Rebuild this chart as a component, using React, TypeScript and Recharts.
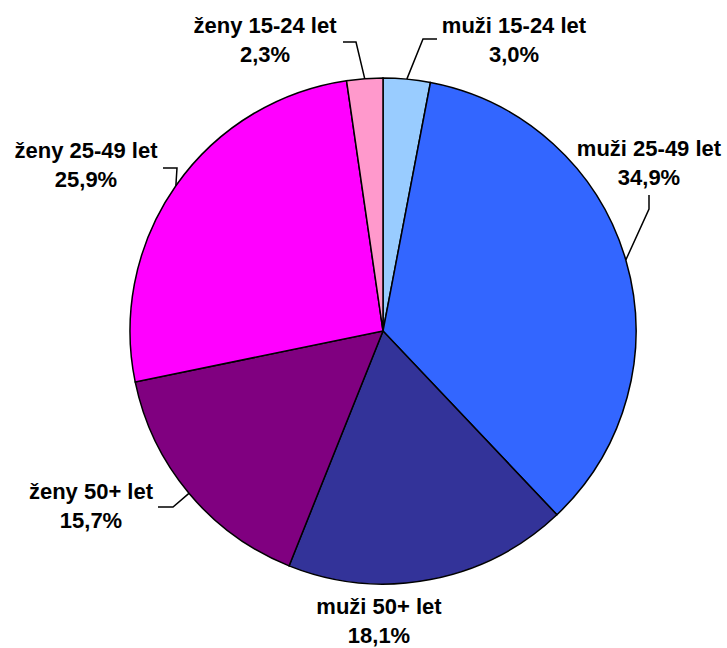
import { PieChart, Pie, Cell } from "recharts";

const categories = [
  "muži 15-24 let",
  "muži 25-49 let",
  "muži 50+ let",
  "ženy 50+ let",
  "ženy 25-49 let",
  "ženy 15-24 let",
];
const shares = [3.0, 34.9, 18.1, 15.7, 25.9, 2.3];
const shareLabels = ["3,0%", "34,9%", "18,1%", "15,7%", "25,9%", "2,3%"];
const colors = ["#99CCFF", "#3366FF", "#333399", "#800080", "#FF00FF", "#FF99CC"];

// label placement relative to pie centre (text centre x, first baseline y, leader elbow + end)
const labelLayout = [
  { tx: 131, ty: -298, leader: [[40, -292], [54, -292]] },
  { tx: 266, ty: -175, leader: [[266, -122], [266, -136]] },
  { tx: -4, ty: 283, leader: [] },
  { tx: -292, ty: 168, leader: [[-210, 176], [-225, 176]] },
  { tx: -297, ty: -173, leader: [[-206, -163], [-220, -163]] },
  { tx: -118, ty: -298, leader: [[-27, -289], [-40, -289]] },
];

const data = categories.map((name, i) => ({ name, value: shares[i] }));

const RAD = Math.PI / 180;

const renderLabel = (props: any) => {
  const { cx, cy, midAngle, outerRadius, index } = props;
  const l = labelLayout[index];
  const sx = cx + outerRadius * Math.cos(-midAngle * RAD);
  const sy = cy + outerRadius * Math.sin(-midAngle * RAD);
  const pts = [[sx, sy], ...l.leader.map(([x, y]) => [cx + x, cy + y])];
  return (
    <g key={`lbl-${index}`}>
      {l.leader.length > 0 && (
        <polyline
          points={pts.map((p) => p.join(",")).join(" ")}
          fill="none"
          stroke="#000"
          strokeWidth={1.5}
        />
      )}
      <text
        x={cx + l.tx}
        y={cy + l.ty}
        textAnchor="middle"
        fontFamily="'Liberation Sans', Arial, sans-serif"
        fontWeight="bold"
        fontSize={22}
        fill="#000"
      >
        <tspan x={cx + l.tx}>{categories[index]}</tspan>
        <tspan x={cx + l.tx} dy={29}>
          {shareLabels[index]}
        </tspan>
      </text>
    </g>
  );
};

export default function App() {
  return (
    <div style={{ position: "absolute", left: 0, top: 0, background: "#fff" }}>
      <PieChart width={727} height={648} margin={{ top: 0, right: 0, bottom: 0, left: 0 }}>
        <Pie
          data={data}
          dataKey="value"
          nameKey="name"
          cx={383}
          cy={331}
          outerRadius={253}
          startAngle={90}
          endAngle={-270}
          stroke="#000"
          strokeWidth={1.5}
          label={renderLabel}
          labelLine={false}
          isAnimationActive={false}
        >
          {data.map((d, i) => (
            <Cell key={d.name} fill={colors[i]} />
          ))}
        </Pie>
      </PieChart>
    </div>
  );
}
